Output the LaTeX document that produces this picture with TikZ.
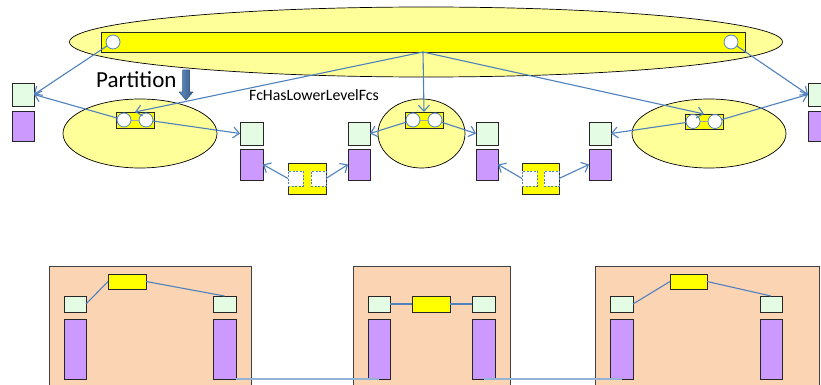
\documentclass[tikz,border=0pt]{standalone}
\usepackage{fontspec}
\setmainfont{Carlito}
\usetikzlibrary{arrows.meta,shapes.geometric}
\definecolor{lineblue}{HTML}{4F81BD}
\definecolor{lyellow}{HTML}{FFFF99}
\definecolor{byellow}{HTML}{FFFF00}
\definecolor{lgreen}{HTML}{E3FCE3}
\definecolor{lpurple}{HTML}{CC99FF}
\definecolor{lorange}{HTML}{FBD4B4}
\definecolor{darkblue}{HTML}{385D8A}
\tikzset{
  rbox/.style={rectangle, inner sep=0pt, outer sep=0pt, draw=black!85, line width=0.8pt, anchor=north west},
  gbox/.style={rbox, fill=lgreen, minimum width=22pt, minimum height=23pt},
  gsbox/.style={rbox, fill=lgreen, minimum width=22pt, minimum height=16pt},
  pbox/.style={rbox, fill=lpurple, minimum width=22pt},
  ybox/.style={rbox, fill=byellow},
  circ/.style={circle, draw=lineblue, fill=white, minimum size=14pt, inner sep=0pt, outer sep=0pt, line width=0.8pt},
  dsq/.style={rectangle, draw=lineblue, dashed, dash pattern=on 2pt off 1.5pt, fill=white, minimum size=15pt, inner sep=0pt, outer sep=0pt, anchor=north west, line width=0.7pt},
  conn/.style={draw=lineblue, line width=1.1pt, -{Straight Barb[length=6pt,width=11pt]}},
  link/.style={draw=lineblue, line width=1.1pt},
  ell/.style={ellipse, draw=black, fill=lyellow, line width=0.7pt, inner sep=0pt},
  obox/.style={rbox, fill=lorange, draw=black!75, line width=1pt},
}
\begin{document}
\begin{tikzpicture}[x=1pt,y=-1pt]
\clip (0,0) rectangle (821,385);
\fill[white] (0,0) rectangle (821,385);
% ellipses
\node[ell, minimum width=713pt, minimum height=70pt] (bigell) at (426,42) {};
\node[ell, minimum width=154pt, minimum height=69pt] (ell1) at (140,133.5) {};
\node[ell, minimum width=87pt, minimum height=69pt] (ell2) at (421.5,133.5) {};
\node[ell, minimum width=154pt, minimum height=69pt] (ell3) at (709,133.5) {};
% big bar
\node[ybox, minimum width=644pt, minimum height=20pt] (bar) at (101,32) {};
\node[circ] (bl) at (113,42) {};
\node[circ] (br) at (731,42) {};
% small connectors
\node[ybox, minimum width=38pt, minimum height=16pt] (lc) at (116,112) {};
\node[ybox, minimum width=38pt, minimum height=16pt] (cc) at (405,112) {};
\node[ybox, minimum width=38pt, minimum height=15pt] (rc) at (685,114) {};
\draw[gray!70, line width=0.7pt] (124,120) -- (146,120) (413,120) -- (435,120) (693,121.5) -- (715,121.5);
\node[circ] (lca) at (124,120) {};
\node[circ] (lcb) at (146,120) {};
\node[circ] (cca) at (413,120) {};
\node[circ] (ccb) at (435,120) {};
\node[circ] (rca) at (693,121.5) {};
\node[circ] (rcb) at (715,121.5) {};
% green / purple boxes upper
\node[gbox] (g0) at (12,83) {};
\node[pbox, minimum height=30pt] (p0) at (12,111) {};
\node[gbox, minimum width=23pt] (g1) at (240,122) {};
\node[pbox, minimum width=23pt, minimum height=31pt] (p1) at (240,149) {};
\node[gbox] (g2) at (348,122) {};
\node[pbox, minimum height=31pt] (p2) at (348,149) {};
\node[gbox] (g3) at (476,122) {};
\node[pbox, minimum height=31pt] (p3) at (476,149) {};
\node[gbox] (g4) at (589,122) {};
\node[pbox, minimum height=31pt] (p4) at (589,149) {};
\node[gbox] (g5) at (808,83) {};
\node[pbox, minimum height=30pt] (p5) at (808,111) {};
% I-shapes
\node[ybox, minimum width=38pt, minimum height=31pt] (ib1) at (288,163) {};
\node[dsq] (d1a) at (288,171) {};
\node[dsq] (d1b) at (311,171) {};
\node[ybox, minimum width=37pt, minimum height=31pt] (ib2) at (522,163) {};
\node[dsq] (d2a) at (522,171) {};
\node[dsq] (d2b) at (544,171) {};
% arrows
\draw[conn] (bl) -- (g0.east);
\draw[conn] (br) -- (g5.west);
\draw[conn] (bar.south) -- (lc.north);
\draw[conn] (bar.south) -- (cc.north);
\draw[conn] (bar.south) -- (rc.north);
\draw[conn] (lca) -- (g0.east);
\draw[conn] (lcb) -- (g1.west);
\draw[conn] (cca) -- (g2.east);
\draw[conn] (ccb) -- (g3.west);
\draw[conn] (rca) -- (g4.east);
\draw[conn] (rcb) -- (g5.west);
\draw[conn] (d1a.west) -- (p1.east);
\draw[conn] (d1b.east) -- (p2.west);
\draw[conn] (d2a.west) -- (p3.east);
\draw[conn] (d2b.east) -- (p4.west);
% texts
\node[anchor=base west, inner sep=0pt, font=\fontsize{23}{25}\selectfont] (parttext) at (96,88) {Partition};
\node[anchor=base west, inner sep=0pt, font=\fontsize{15.8}{18}\selectfont] (fctext) at (249,101) {FcHasLowerLevelFcs};
% block arrow
\fill[left color=lineblue!90, right color=darkblue, draw=darkblue, line width=0.4pt]
  (182.5,70) -- (189.5,70) -- (189.5,92) -- (193,92) -- (186,100) -- (179,92) -- (182.5,92) -- cycle;
% bottom boxes
\node[obox, minimum width=202pt, minimum height=140pt] (oa) at (49,266) {};
\node[obox, minimum width=157pt, minimum height=140pt] (ob) at (353,266) {};
\node[obox, minimum width=224pt, minimum height=140pt] (oc) at (595,266) {};
% box A
\node[ybox, minimum width=38pt, minimum height=15pt] (ya) at (108,274) {};
\node[gsbox] (ga1) at (64,296) {};
\node[pbox, minimum height=60pt] (pa1) at (64,319) {};
\node[gsbox, minimum width=23pt] (ga2) at (213,296) {};
\node[pbox, minimum width=23pt, minimum height=60pt] (pa2) at (213,319) {};
% box B
\node[gsbox] (gb1) at (368,296) {};
\node[pbox, minimum height=60pt] (pb1) at (368,319) {};
\node[ybox, minimum width=38pt, minimum height=16pt] (yb) at (412,296) {};
\node[gsbox, minimum width=23pt] (gb2) at (472,296) {};
\node[pbox, minimum width=23pt, minimum height=60pt] (pb2) at (472,319) {};
% box C
\node[gsbox, minimum width=23pt] (gc1) at (610,296) {};
\node[pbox, minimum width=23pt, minimum height=60pt] (pc1) at (610,319) {};
\node[ybox, minimum width=37pt, minimum height=15pt] (yc) at (670,274) {};
\node[gsbox] (gc2) at (760,296) {};
\node[pbox, minimum height=60pt] (pc2) at (760,319) {};
% bottom links
\draw[link] (ga1.east) -- (ya.west);
\draw[link] (ya.east) -- (ga2.north);
\draw[link] (gb1.east) -- (yb.west);
\draw[link] (yb.east) -- (gb2.west);
\draw[link] (gc1.east) -- (yc.west);
\draw[link] (yc.east) -- (gc2.north);
\draw[link, draw=lineblue!60, line width=1.5pt] (pa2.south east) -- (pb1.south);
\draw[link, draw=lineblue!60, line width=1.5pt] (pb2.south) -- (pc1.south);
\end{tikzpicture}
\end{document}
